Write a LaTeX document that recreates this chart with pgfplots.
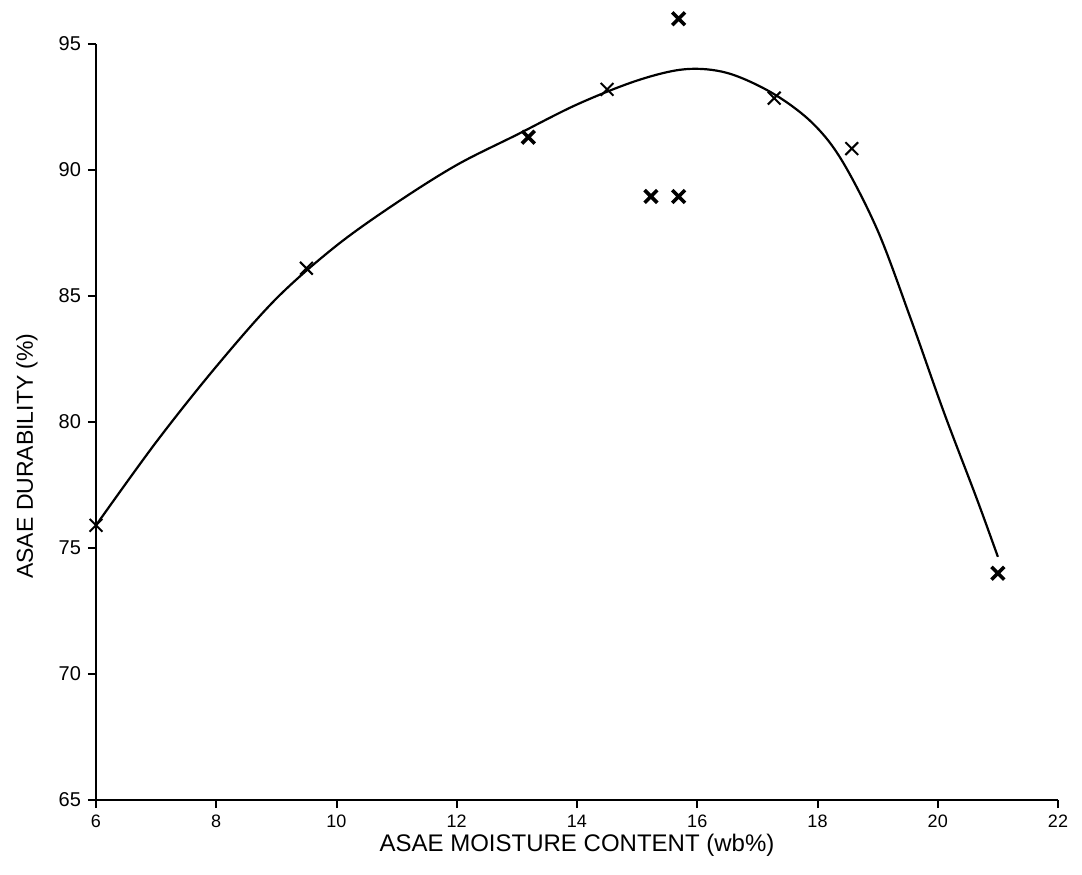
\documentclass[border=0pt]{standalone}
\usepackage{fontspec}
\setmainfont{Liberation Sans}
\usepackage{pgfplots}
\pgfplotsset{compat=1.18}
\begin{document}
\begin{tikzpicture}
\begin{axis}[
  scale only axis, width=481pt, height=378pt,
  xmin=6, xmax=22, ymin=65, ymax=95,
  axis lines=left, axis line style={line width=1.4pt,-},
  xtick={6,8,...,22}, ytick={65,70,...,95},
  tick style={line width=1pt, black}, tick align=outside, major tick length=4pt,
  clip=false,
  /pgf/number format/assume math mode=true,
  xticklabel style={font=\fontsize{9}{10}\selectfont},
  yticklabel style={font=\fontsize{10}{12}\selectfont},
  xlabel={ASAE MOISTURE CONTENT (wb\%)},
  ylabel={ASAE DURABILITY (\%)},
  xlabel style={font=\fontsize{12}{14}\selectfont, at={(axis description cs:0.5,0)}, anchor=center, yshift=-22.5pt},
  ylabel style={font=\fontsize{11.5}{14}\selectfont, at={(axis description cs:0,0.455)}, anchor=center, yshift=34.5pt},
]
\addplot[black, line width=1.1pt, smooth, tension=0.55] coordinates {
 (6,75.9) (7,79.2) (8,82.2) (9,84.9) (10,87.0) (11,88.7) (12,90.2)
 (13,91.4) (14,92.6) (15,93.55) (15.8,94.0) (16.5,93.85)
 (17.25,93.05) (17.9,91.9) (18.4,90.4) (19.0,87.6) (19.55,84.1) (20.1,80.4)
 (20.65,76.95) (21.0,74.65)
};
\addplot[only marks, mark=x, mark size=4.5pt, mark options={line width=1pt, black}] coordinates {
 (6,75.9) (9.5,86.1) (14.5,93.2) (17.28,92.85) (18.57,90.85)
};
\addplot[only marks, mark=x, mark size=4.5pt, mark options={line width=1.8pt, black}] coordinates {
 (13.19,91.3) (15.23,88.95) (15.69,88.95) (15.69,96.0) (21.0,74.0)
};
\end{axis}
\pgfresetboundingbox
\path[use as bounding box] (current axis.south west) ++(-48pt,-37pt) rectangle ++(541pt,437pt);
\end{tikzpicture}
\end{document}
